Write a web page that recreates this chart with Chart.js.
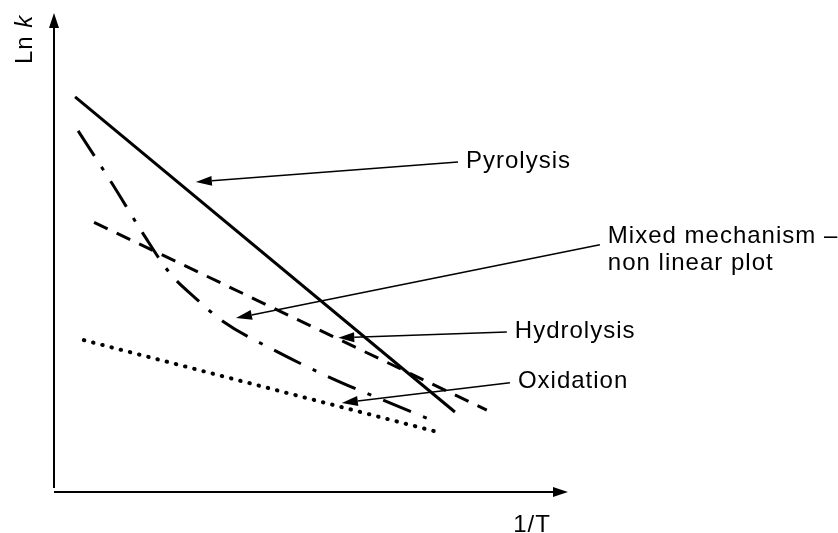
<!DOCTYPE html>
<html>
<head>
<meta charset="utf-8">
<script src="https://cdn.jsdelivr.net/npm/chart.js@4/dist/chart.umd.min.js"></script>
<style>
  html, body { margin: 0; padding: 0; background: #fff; }
  #wrap { width: 838px; height: 533px; }
</style>
</head>
<body>
<div id="wrap"><canvas id="myChart" width="838" height="533"></canvas></div>
<script>
// schematic Arrhenius plot, both axes in arbitrary units 0..10 (x = 1/T, y = ln k)
const pyrolysisX = [0.41, 7.80];
const pyrolysisY = [8.25, 1.67];

const hydrolysisX = [0.78, 8.42];
const hydrolysisY = [5.63, 1.71];

const oxidationX = [0.58, 7.47];
const oxidationY = [3.17, 1.25];

const mixedX = [0.47, 1.13, 1.73, 2.26, 2.74, 3.29, 4.32, 5.35, 6.44, 7.26];
const mixedY = [7.54, 6.44, 5.40, 4.56, 4.06, 3.56, 2.94, 2.40, 1.90, 1.54];

// callout labels: text, arrow tip and tail in data units
const calloutText = [["Pyrolysis"], ["Mixed mechanism \u2013", "non linear plot"], ["Hydrolysis"], ["Oxidation"]];
const calloutTipX = [2.76, 3.54, 5.53, 5.60];
const calloutTipY = [6.47, 3.63, 3.22, 1.86];
const calloutTailX = [7.86, 10.62, 8.81, 8.87];
const calloutTailY = [6.89, 5.16, 3.34, 2.28];

const FONT = "24px 'Liberation Sans', Arial, sans-serif";

function pts(xs, ys) {
  return xs.map((v, i) => ({ x: v, y: ys[i] }));
}

function arrow(ctx, x0, y0, x1, y1, len, half) {
  const a = Math.atan2(y1 - y0, x1 - x0);
  const bx = x1 - Math.cos(a) * len, by = y1 - Math.sin(a) * len;
  ctx.beginPath();
  ctx.moveTo(x0, y0);
  ctx.lineTo(bx, by);
  ctx.stroke();
  ctx.beginPath();
  ctx.moveTo(x1, y1);
  ctx.lineTo(bx + Math.sin(a) * half, by - Math.cos(a) * half);
  ctx.lineTo(bx - Math.sin(a) * half, by + Math.cos(a) * half);
  ctx.closePath();
  ctx.fill();
}

const sketch = {
  id: "sketch",
  afterDatasetsDraw(chart) {
    const { ctx, scales: { x, y } } = chart;
    const x0 = x.getPixelForValue(0), y0 = y.getPixelForValue(0);
    ctx.save();
    ctx.strokeStyle = "#000";
    ctx.fillStyle = "#000";
    ctx.setLineDash([]);

    // axes with arrow heads
    ctx.lineWidth = 2;
    arrow(ctx, x0, y0, x.getPixelForValue(10), y0, 15, 5);
    arrow(ctx, x0, y0 - 4, x0, y.getPixelForValue(10), 15, 5);

    // axis titles
    ctx.font = FONT;
    ctx.letterSpacing = "1px";
    ctx.textAlign = "center";
    ctx.textBaseline = "alphabetic";
    ctx.fillText("1/T", x.getPixelForValue(9.3), y0 + 40);

    ctx.save();
    ctx.translate(x0 - 22, y.getPixelForValue(9.45));
    ctx.rotate(-Math.PI / 2);
    ctx.textAlign = "left";
    const w1 = ctx.measureText("Ln ").width;
    ctx.font = "italic " + FONT;
    const w2 = ctx.measureText("k").width;
    ctx.font = FONT;
    ctx.fillText("Ln ", -(w1 + w2) / 2, 0);
    ctx.font = "italic " + FONT;
    ctx.fillText("k", -(w1 + w2) / 2 + w1, 0);
    ctx.restore();

    // callouts
    ctx.lineWidth = 1.5;
    ctx.font = FONT;
    ctx.textAlign = "left";
    ctx.textBaseline = "middle";
    calloutText.forEach((lines, i) => {
      const tx = x.getPixelForValue(calloutTailX[i]);
      const ty = y.getPixelForValue(calloutTailY[i]);
      arrow(ctx, tx, ty, x.getPixelForValue(calloutTipX[i]), y.getPixelForValue(calloutTipY[i]), 16, 5);
      const lh = 27;
      const top = ty - (lines.length - 1) * lh / 2 + (lines.length > 1 ? 5 : -1);
      lines.forEach((t, j) => ctx.fillText(t, tx + 8, top + j * lh));
    });
    ctx.restore();
  }
};

const base = { showLine: true, pointRadius: 0, borderColor: "#000", borderWidth: 3, fill: false };

new Chart(document.getElementById("myChart"), {
  type: "scatter",
  data: {
    datasets: [
      { ...base, label: "Pyrolysis", data: pts(pyrolysisX, pyrolysisY) },
      { ...base, label: "Hydrolysis", data: pts(hydrolysisX, hydrolysisY), borderDash: [15, 10] },
      { ...base, label: "Oxidation", data: pts(oxidationX, oxidationY), borderWidth: 4, borderCapStyle: "round", borderDash: [0.5, 9] },
      { ...base, label: "Mixed mechanism", data: pts(mixedX, mixedY), cubicInterpolationMode: "monotone", borderDash: [30, 13, 4, 13] }
    ]
  },
  options: {
    responsive: false,
    animation: false,
    layout: { padding: { left: 54, right: 270, top: 13, bottom: 41 } },
    scales: {
      x: { type: "linear", min: 0, max: 10, display: false },
      y: { type: "linear", min: 0, max: 10, display: false }
    },
    plugins: { legend: { display: false }, tooltip: { enabled: false } }
  },
  plugins: [sketch]
});
</script>
</body>
</html>
